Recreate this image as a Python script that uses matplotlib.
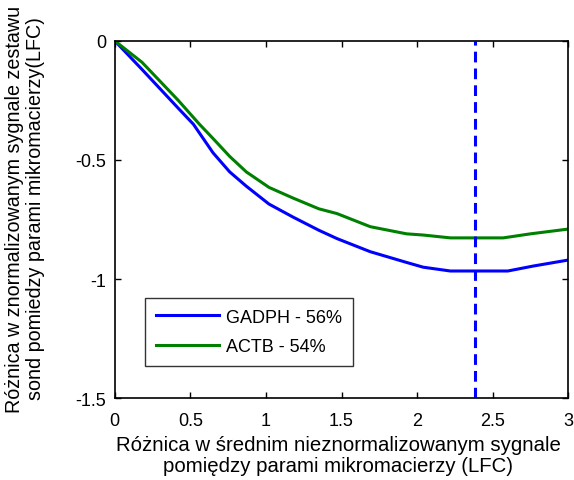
import matplotlib
matplotlib.use("Agg")
import matplotlib.pyplot as plt

plt.rcParams['font.family'] = ['Liberation Sans', 'DejaVu Sans']

# LFC difference curves for the reference genes
gadph_x = [0, 0.18, 0.42, 0.52, 0.65, 0.76, 0.87, 1.02, 1.18, 1.35, 1.47, 1.69, 1.93,
           2.04, 2.22, 2.4, 2.6, 2.77, 3.0]
gadph_y = [0, -0.12, -0.283, -0.35, -0.47, -0.55, -0.61, -0.685, -0.74, -0.795, -0.83,
           -0.885, -0.93, -0.95, -0.966, -0.966, -0.966, -0.945, -0.92]

actb_x = [0, 0.18, 0.42, 0.56, 0.65, 0.76, 0.87, 1.02, 1.18, 1.35, 1.47, 1.69, 1.93,
          2.04, 2.22, 2.4, 2.57, 2.75, 3.0]
actb_y = [0, -0.09, -0.25, -0.35, -0.41, -0.485, -0.55, -0.615, -0.66, -0.705, -0.725,
          -0.78, -0.81, -0.815, -0.827, -0.827, -0.827, -0.81, -0.79]

labels = ['GADPH - 56%', 'ACTB - 54%']
threshold = 2.38

xticks = [0, 0.5, 1, 1.5, 2, 2.5, 3]
xticklabels = ['0', '0.5', '1', '1.5', '2', '2.5', '3']
yticks = [0, -0.5, -1, -1.5]
yticklabels = ['0', '-0.5', '-1', '-1.5']

fig = plt.figure(figsize=(5.74, 4.81), dpi=100)
ax = fig.add_axes([0.200, 0.170, 0.790, 0.743])

ax.plot(gadph_x, gadph_y, color=(0, 0, 1), lw=2.2, label=labels[0])
ax.plot(actb_x, actb_y, color=(0, 0.5, 0), lw=2.2, label=labels[1])
ax.axvline(threshold, color=(0, 0, 1), lw=2.2, linestyle=(0, (3.5, 2)))

ax.set_xlim(0, 3)
ax.set_ylim(-1.5, 0)
ax.set_xticks(xticks)
ax.set_xticklabels(xticklabels)
ax.set_yticks(yticks)
ax.set_yticklabels(yticklabels)
ax.tick_params(direction='in', length=4, width=1, labelsize=13, top=True, right=True)
ax.tick_params(axis='x', pad=10)
ax.tick_params(axis='y', pad=6)
for s in ax.spines.values():
    s.set_linewidth(1.2)

fig.text(338 / 574, 1 - 456 / 481,
         'Różnica w średnim nieznormalizowanym sygnale\npomiędzy parami mikromacierzy (LFC)',
         fontsize=14.7, ha='center', va='center', multialignment='center', linespacing=1.1)
fig.text(25 / 574, 1 - 209 / 481,
         'Różnica w znormalizowanym sygnale zestawu\nsond pomiedzy parami mikromacierzy(LFC)',
         fontsize=14.2, ha='center', va='center', rotation=90, multialignment='center',
         linespacing=1.1)

leg = ax.legend(loc='upper left', bbox_to_anchor=(0.066, 0.281), borderaxespad=0,
                fontsize=13, frameon=True, fancybox=False, edgecolor='black',
                handlelength=3.5, handletextpad=0.4, borderpad=0.6, labelspacing=0.7)
leg.get_frame().set_linewidth(1.0)

fig.savefig('out.png', dpi=100)
